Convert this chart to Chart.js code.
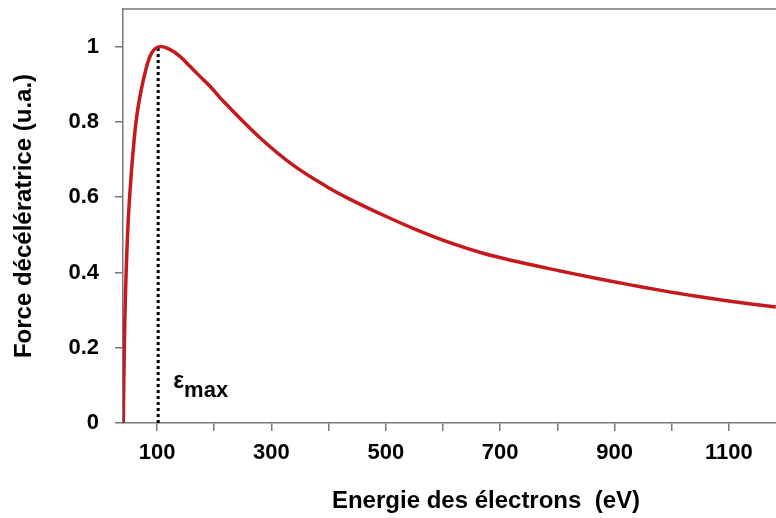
<!DOCTYPE html>
<html>
<head>
<meta charset="utf-8">
<script src="https://cdn.jsdelivr.net/npm/chart.js@4"></script>
<style>
  html, body { margin: 0; background: #fff; overflow: hidden; }
  canvas { display: block; }
</style>
</head>
<body>
<!-- le canvas est plus large que la fenetre: le graphique d'origine est coupe a droite -->
<canvas id="forceChart" width="849" height="518"></canvas>
<script>
// valeurs (energie en eV, force en u.a.)
const energie = [41, 43, 46, 51, 60, 67, 79, 91, 105, 123, 140, 158, 175, 193, 219, 280, 338, 397, 437, 496, 554, 612, 670, 729, 805, 863, 921, 979, 1038, 1096, 1182];
const force = [0, 0.22, 0.40, 0.575, 0.753, 0.84, 0.93, 0.984, 1.0, 0.992, 0.974, 0.947, 0.921, 0.894, 0.85, 0.758, 0.685, 0.628, 0.595, 0.552, 0.513, 0.479, 0.451, 0.429, 0.404, 0.386, 0.369, 0.353, 0.338, 0.325, 0.308];

// ligne pointillee de epsilon max
const emax = 102;
const emaxLigne = [0, 1];

const xTicks = [100, 200, 300, 400, 500, 600, 700, 800, 900, 1000, 1100];
const xLabels = [100, 300, 500, 700, 900, 1100];
const yTicks = [0, 0.2, 0.4, 0.6, 0.8, 1];

const axisColor = "#777";
const family = "'Liberation Sans', Arial, sans-serif";
const tickFont = { family: family, size: 22, weight: "bold" };
const titleFont = { family: family, size: 24, weight: "bold" };

// bord du haut + le label epsilon max
const extras = {
  id: "extras",
  afterDraw(chart) {
    const ctx = chart.ctx;
    const area = chart.chartArea;
    ctx.save();
    ctx.strokeStyle = axisColor;
    ctx.lineWidth = 1.5;
    ctx.beginPath();
    ctx.moveTo(area.left, area.top);
    ctx.lineTo(area.right, area.top);
    ctx.stroke();

    const x = chart.scales.x.getPixelForValue(emax) + 15;
    const y = chart.scales.y.getPixelForValue(0.093);
    ctx.fillStyle = "#000";
    ctx.textBaseline = "alphabetic";
    ctx.font = "bold 23px " + family;
    ctx.fillText("ε", x, y);
    const w = ctx.measureText("ε").width;
    ctx.font = "bold 22px " + family;
    ctx.fillText("max", x + w, y + 9);
    ctx.restore();
  }
};

new Chart(document.getElementById("forceChart"), {
  type: "line",
  data: {
    datasets: [
      {
        data: energie.map((e, i) => ({ x: e, y: force[i] })),
        borderColor: "#c41a1e",
        borderWidth: 3.5,
        pointRadius: 0,
        tension: 0.4,
        fill: false
      },
      {
        data: emaxLigne.map(v => ({ x: emax, y: v })),
        borderColor: "#000",
        borderWidth: 3,
        borderDash: [3, 3],
        pointRadius: 0,
        fill: false
      }
    ]
  },
  options: {
    responsive: false,
    animation: false,
    layout: { padding: { left: 0, top: 9, right: 0, bottom: 0 } },
    plugins: { legend: { display: false }, tooltip: { enabled: false } },
    scales: {
      x: {
        type: "linear",
        min: 40.5,
        max: 1310,
        afterBuildTicks: s => { s.ticks = xTicks.map(v => ({ value: v })); },
        afterFit: s => {
          s.height = 95;
          s.paddingLeft = 0;
          s.paddingRight = 0;
        },
        ticks: {
          autoSkip: false,
          maxRotation: 0,
          padding: 9,
          color: "#000",
          font: tickFont,
          callback: v => (xLabels.includes(v) ? String(v) : "")
        },
        grid: { drawOnChartArea: false, tickLength: 8, color: axisColor, lineWidth: 1.5 },
        border: { color: axisColor, width: 1.5 },
        title: {
          display: true,
          text: "Energie des électrons  (eV)",
          color: "#000",
          font: titleFont,
          padding: { top: 0, bottom: 2 }
        }
      },
      y: {
        min: 0,
        max: 1.1,
        afterBuildTicks: s => { s.ticks = yTicks.map(v => ({ value: v })); },
        afterFit: s => {
          s.width = 123;
          s.paddingTop = 0;
          s.paddingBottom = 0;
        },
        ticks: {
          padding: 16,
          color: "#000",
          font: tickFont,
          callback: v => String(v)
        },
        grid: { drawOnChartArea: false, tickLength: 8, color: axisColor, lineWidth: 1.5 },
        border: { color: axisColor, width: 1.5 },
        title: {
          display: true,
          text: "Force décélératrice (u.a.)",
          color: "#000",
          font: titleFont,
          padding: { top: 10, bottom: 0 }
        }
      }
    }
  },
  plugins: [extras]
});
</script>
</body>
</html>
